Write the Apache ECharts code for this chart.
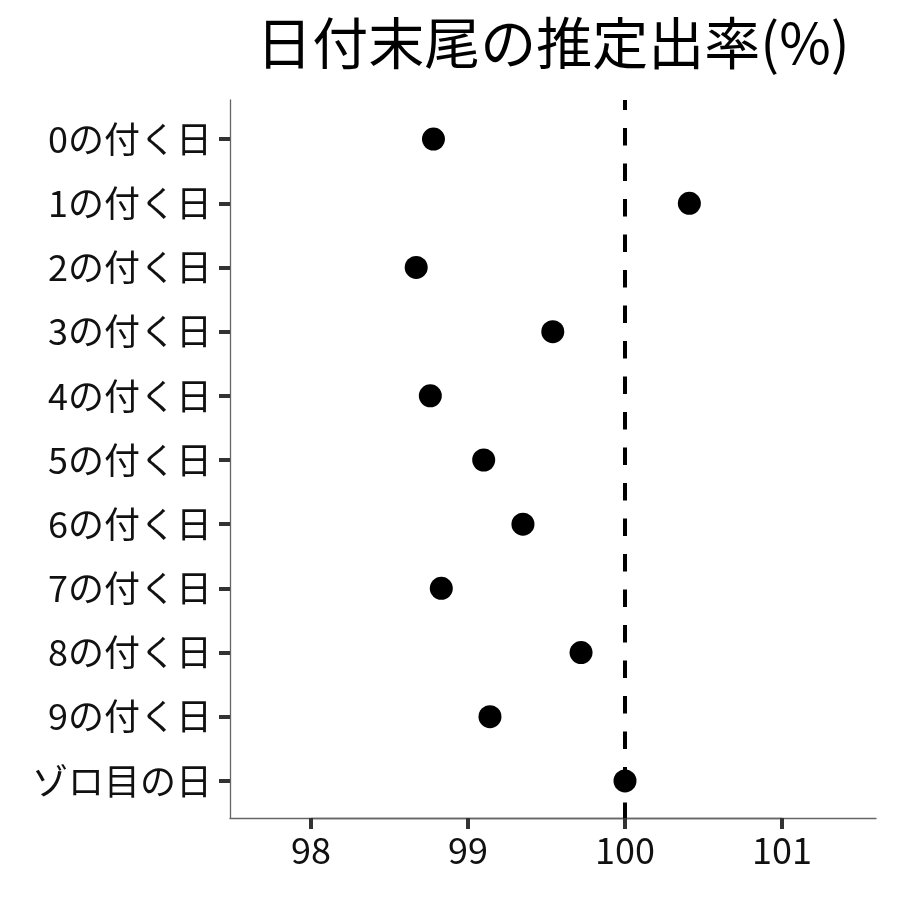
<!DOCTYPE html>
<html>
<head>
<meta charset="utf-8">
<script src="https://cdn.jsdelivr.net/npm/echarts@6/dist/echarts.min.js"></script>
<style>
  html, body { margin: 0; padding: 0; background: #fff; }
  #chart { width: 900px; height: 900px; }
</style>
</head>
<body>
<div id="chart"></div>
<script>
var categories = ['0の付く日', '1の付く日', '2の付く日', '3の付く日', '4の付く日', '5の付く日',
                  '6の付く日', '7の付く日', '8の付く日', '9の付く日', 'ゾロ目の日'];
var rates = [98.78, 100.41, 98.67, 99.54, 98.76, 99.10, 99.35, 98.83, 99.72, 99.14, 100.0];
var xTickMin = 98, xTickMax = 101;
var refLine = 100;

var chart = echarts.init(document.getElementById('chart'));
var font = '"Noto Sans CJK JP", "Noto Sans", sans-serif';
var xMin = 97.484, xMax = 101.599;
var tickStyle = { color: '#333', width: 4 };

var option = {
    backgroundColor: '#fff',
    animation: false,
    title: {
        text: '日付末尾の推定出率(%)',
        left: 548,
        textAlign: 'center',
        top: 10,
        textStyle: { fontFamily: font, fontSize: 56, fontWeight: 'normal', color: '#000' }
    },
    grid: [
        // points grid: x runs 98..101, rows spaced like the reference
        { left: 311, right: 118, top: 107, bottom: 87 },
        // frame grid: axis lines + reference line
        { left: 230, right: 24, top: 100, bottom: 82 }
    ],
    xAxis: [
        {
            gridIndex: 0, type: 'value', min: xTickMin, max: xTickMax, splitNumber: 3,
            offset: 5,
            axisLine: { show: true, onZero: false, lineStyle: { color: '#666', width: 1.3 } },
            axisTick: { show: true, length: 11, lineStyle: tickStyle },
            axisLabel: { show: true, fontFamily: font, fontSize: 36, color: '#111', margin: 14 },
            splitLine: { show: false }
        },
        {
            gridIndex: 1, type: 'value', min: xMin, max: xMax,
            axisLine: { show: true, onZero: false, lineStyle: { color: '#666', width: 1.3 } },
            axisTick: { show: false }, axisLabel: { show: false }, splitLine: { show: false }
        }
    ],
    yAxis: [
        {
            gridIndex: 0, type: 'category', data: categories, inverse: true,
            offset: 81,
            axisLine: { show: false },
            axisTick: { show: true, alignWithLabel: true, length: 11, lineStyle: tickStyle },
            axisLabel: { fontFamily: font, fontSize: 36, color: '#111', margin: 18 },
            splitLine: { show: false }
        },
        {
            gridIndex: 1, type: 'value', min: 0, max: 1,
            axisLine: { show: true, onZero: false, lineStyle: { color: '#666', width: 1.3 } },
            axisTick: { show: false }, axisLabel: { show: false }, splitLine: { show: false }
        }
    ],
    series: [
        {
            type: 'scatter',
            xAxisIndex: 1, yAxisIndex: 1,
            data: [],
            z: 1,
            markLine: {
                silent: true,
                symbol: 'none',
                label: { show: false },
                lineStyle: { color: '#000', width: 4, type: [17.5, 18], dashOffset: 2 },
                data: [{ xAxis: refLine }]
            }
        },
        {
            type: 'scatter',
            xAxisIndex: 0, yAxisIndex: 0,
            z: 5,
            clip: false,
            symbolSize: 23,
            itemStyle: { color: '#000', opacity: 1 },
            data: rates.map(function (v, i) { return [v, categories[i]]; })
        }
    ]
};

chart.setOption(option);
</script>
</body>
</html>
